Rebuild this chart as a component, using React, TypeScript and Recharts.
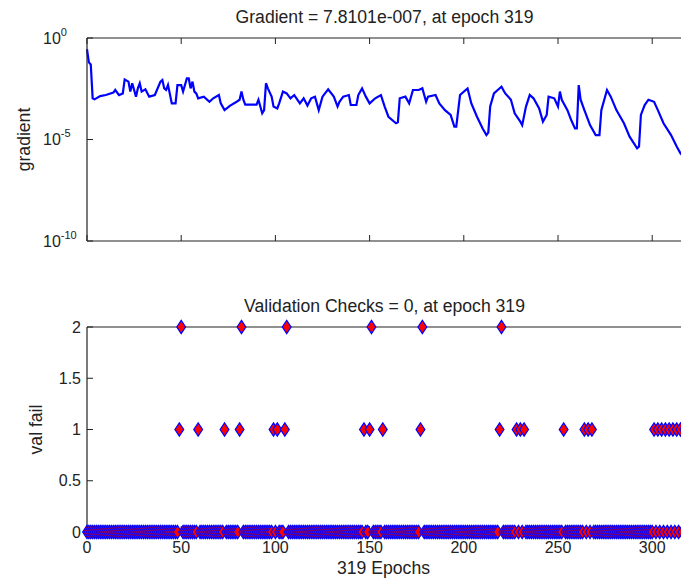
import React from 'react';
import { LineChart, Line, ScatterChart, Scatter, XAxis, YAxis, Label } from 'recharts';

// gradient curve
const gradEpochs = [
  0, 1, 2, 3, 4, 7, 10, 14, 15, 17, 19, 20, 22, 23, 24, 26, 27, 28, 29, 31, 33, 36, 39, 40, 41, 42, 43, 45,
  47, 48, 50, 51, 53, 54, 55, 56, 57, 58, 59, 62, 65, 67, 70, 71, 73, 76, 79, 81, 82, 83, 84, 90, 91, 93,
  94, 95, 96, 98, 99, 101, 102, 104, 106, 108, 110, 113, 115, 117, 119, 121, 123, 125, 128, 131, 133, 134,
  136, 139, 140, 143, 144, 146, 148, 150, 153, 156, 158, 160, 164, 165, 166, 169, 171, 173, 176, 178, 180,
  181, 185, 187, 190, 193, 195, 196, 198, 201, 202, 204, 207, 210, 212, 213, 214, 216, 218, 220, 222, 225,
  227, 230, 231, 233, 235, 237, 240, 242, 244, 245, 248, 250, 251, 252, 255, 257, 259, 260, 261, 262, 264,
  267, 270, 272, 273, 276, 278, 281, 285, 288, 292, 293, 294, 296, 298, 301, 303, 306, 310, 313, 315, 319,
];
const gradValues = [
  2.8e-1, 6.3e-2, 5.0e-2, 1.07e-3, 9.5e-4, 1.38e-3, 1.55e-3, 2.04e-3, 2.75e-3, 1.55e-3, 1.86e-3, 9.1e-3,
  7.1e-3, 2.29e-3, 5.9e-3, 1.29e-3, 3.3e-3, 5.9e-3, 2.29e-3, 2.95e-3, 1.29e-3, 1.55e-3, 7.1e-3, 8.5e-3,
  3.3e-3, 2.75e-3, 4.9e-3, 6.0e-4, 6.0e-4, 4.8e-3, 4.8e-3, 2.29e-3, 1.02e-2, 1.02e-2, 3.3e-3, 7.1e-3,
  2.29e-3, 1.86e-3, 1.07e-3, 1.29e-3, 7.2e-4, 1.07e-3, 1.55e-3, 6.0e-4, 2.8e-4, 4.7e-4, 6.8e-4, 9.1e-4,
  2.29e-3, 9.1e-4, 5.2e-4, 5.2e-4, 9.1e-4, 1.95e-4, 2.8e-4, 5.9e-3, 3.3e-3, 1.29e-3, 4.2e-4, 3.4e-4,
  6.0e-4, 2.29e-3, 1.86e-3, 1.07e-3, 1.55e-3, 6.0e-4, 1.07e-3, 4.7e-4, 1.07e-3, 1.29e-3, 2.8e-4, 1.29e-3,
  2.95e-3, 1.29e-3, 4.2e-4, 7.2e-4, 1.29e-3, 1.55e-3, 5.0e-4, 5.0e-4, 1.55e-3, 3.3e-3, 1.29e-3, 6.0e-4,
  1.07e-3, 1.55e-3, 4.2e-4, 1.32e-4, 6.3e-5, 7.1e-5, 1.07e-3, 1.29e-3, 6.0e-4, 2.75e-3, 2.75e-3, 3.3e-3,
  7.2e-4, 1.29e-3, 1.55e-3, 6.0e-4, 2.8e-4, 1.62e-4, 4.3e-5, 4.3e-5, 1.55e-3, 2.75e-3, 3.3e-3, 6.0e-4,
  1.32e-4, 3.5e-5, 1.66e-5, 2.2e-5, 4.2e-4, 1.86e-3, 2.75e-3, 4.0e-3, 1.86e-3, 9.1e-4, 1.95e-4, 7.6e-5,
  5.1e-5, 4.2e-4, 1.55e-3, 1.07e-3, 3.4e-4, 7.6e-5, 1.62e-4, 1.29e-3, 1.07e-3, 4.2e-4, 2.29e-3, 9.1e-4,
  2.8e-4, 9.1e-5, 3.5e-5, 3.5e-5, 4.8e-3, 9.1e-4, 2.8e-4, 5.1e-5, 1.66e-5, 1.66e-5, 2.8e-4, 2.75e-3,
  1.29e-3, 2.8e-4, 6.3e-5, 1.38e-5, 3.7e-6, 4.5e-6, 1.62e-4, 5.0e-4, 9.1e-4, 7.2e-4, 2.8e-4, 6.3e-5,
  1.66e-5, 4.5e-6, 2.1e-6, 7.81e-7,
];

// validation failure counts: epochs at 1 and at 2, every other epoch is 0
const valFailOneEpochs = [
  49, 59, 73, 81, 99, 101, 105, 147, 150, 157, 177, 219, 228, 230, 232, 253, 264, 266, 268,
  301, 303, 305, 307, 309, 311, 313, 315, 317,
];
const valFailTwoEpochs = [50, 82, 106, 151, 178, 220];
const lastEpoch = 319;

const epochTicks = [0, 50, 100, 150, 200, 250, 300];
const gradTicks = [1e-10, 1e-5, 1];
const gradTickExponents = ['-10', '-5', '0'];
const valFailTicks = [0, 0.5, 1, 1.5, 2];

const gradTitle = 'Gradient = 7.8101e-007, at epoch 319';
const valTitle = 'Validation Checks = 0, at epoch 319';
const gradLabel = 'gradient';
const valLabel = 'val fail';
const xLabel = '319 Epochs';

const gradData = gradEpochs.map((epoch, i) => ({ epoch, gradient: gradValues[i] }));
const valData = Array.from({ length: lastEpoch + 1 }, (_, epoch) => ({
  epoch,
  valFail: valFailTwoEpochs.includes(epoch) ? 2 : valFailOneEpochs.includes(epoch) ? 1 : 0,
}));

const FONT = '"Liberation Sans", Arial, sans-serif';
const INK = '#222';
const TEXT = '#222';

const tickStyle = { fontSize: 16, fill: TEXT, fontFamily: FONT };
const noLabel = () => <g />;

function LogTick(props: any) {
  const { y, payload } = props;
  const idx = gradTicks.indexOf(payload.value);
  return (
    <text x={43} y={y} dy={5.5} fill={TEXT} fontFamily={FONT} fontSize={16}>
      <tspan>10</tspan>
      <tspan dy={-8} fontSize={11}>{gradTickExponents[idx]}</tspan>
    </text>
  );
}

const titleContent = (text: string) => (props: any) => {
  const vb = props.viewBox;
  return (
    <text x={vb.x + vb.width / 2 - 3} y={vb.y - 14} textAnchor="middle" fill={TEXT} fontFamily={FONT} fontSize={17.6}>
      {text}
    </text>
  );
};

const yLabelContent = (text: string, baselineX: number) => (props: any) => {
  const vb = props.viewBox;
  const cy = vb.y + vb.height / 2;
  const x = vb.x + baselineX;
  return (
    <text x={x} y={cy} transform={`rotate(-90, ${x}, ${cy})`} textAnchor="middle" fill={TEXT} fontFamily={FONT} fontSize={17.6}>
      {text}
    </text>
  );
};

const xLabelContent = (props: any) => {
  const vb = props.viewBox;
  return (
    <text x={vb.x + vb.width / 2 - 4} y={vb.y + 42} textAnchor="middle" fill={TEXT} fontFamily={FONT} fontSize={17.6}>
      {xLabel}
    </text>
  );
};

function Diamond(props: any) {
  const { cx, cy } = props;
  if (cx == null || cy == null) return null;
  const w = 4.4;
  const h = 6.6;
  return (
    <path
      d={`M${cx},${cy - h}L${cx + w},${cy}L${cx},${cy + h}L${cx - w},${cy}Z`}
      fill="#ff0000"
      stroke="#0000ff"
      strokeWidth={1.2}
    />
  );
}

const boxAxis = {
  type: 'number' as const,
  interval: 0,
  tickSize: -6,
  axisLine: { stroke: INK, strokeWidth: 1.2 },
  tickLine: { stroke: INK },
};

export default function App() {
  return (
    <div style={{ position: 'absolute', left: 0, top: 0, width: 681, height: 584, overflow: 'hidden', background: '#fff' }}>
      <div style={{ position: 'absolute', left: 0, top: 0 }}>
        <LineChart width={700} height={290} data={gradData} margin={{ top: 37, right: 11, bottom: 48, left: 0 }}>
          <XAxis {...boxAxis} dataKey="epoch" domain={[0, lastEpoch]} ticks={epochTicks} height={1} tick={noLabel} />
          <XAxis
            {...boxAxis}
            xAxisId="top"
            orientation="top"
            dataKey="epoch"
            domain={[0, lastEpoch]}
            ticks={epochTicks}
            height={1}
            tick={noLabel}
          >
            <Label content={titleContent(gradTitle)} />
          </XAxis>
          <YAxis
            {...boxAxis}
            scale="log"
            domain={[1e-10, 1]}
            allowDataOverflow
            ticks={gradTicks}
            width={87}
            tick={<LogTick />}
          >
            <Label content={yLabelContent(gradLabel, 29.5)} />
          </YAxis>
          <YAxis
            {...boxAxis}
            yAxisId="right"
            orientation="right"
            scale="log"
            domain={[1e-10, 1]}
            allowDataOverflow
            ticks={gradTicks}
            width={1}
            tick={noLabel}
          />
          <Line
            dataKey="gradient"
            type="linear"
            stroke="#0000ff"
            strokeWidth={2.2}
            dot={false}
            isAnimationActive={false}
          />
        </LineChart>
      </div>
      <div style={{ position: 'absolute', left: 0, top: 290 }}>
        <ScatterChart width={700} height={294} margin={{ top: 36, right: 11, bottom: 0, left: 0 }}>
          <XAxis
            {...boxAxis}
            dataKey="epoch"
            domain={[0, lastEpoch]}
            ticks={epochTicks}
            height={52}
            tickMargin={16}
            tick={tickStyle}
          >
            <Label content={xLabelContent} />
          </XAxis>
          <XAxis
            {...boxAxis}
            xAxisId="top"
            orientation="top"
            dataKey="epoch"
            domain={[0, lastEpoch]}
            ticks={epochTicks}
            height={1}
            tick={noLabel}
          >
            <Label content={titleContent(valTitle)} />
          </XAxis>
          <YAxis
            {...boxAxis}
            dataKey="valFail"
            domain={[0, 2]}
            ticks={valFailTicks}
            width={87}
            tickMargin={12}
            tick={tickStyle}
          >
            <Label content={yLabelContent(valLabel, 42)} />
          </YAxis>
          <YAxis
            {...boxAxis}
            yAxisId="right"
            orientation="right"
            dataKey="valFail"
            domain={[0, 2]}
            ticks={valFailTicks}
            width={1}
            tick={noLabel}
          />
          <Scatter data={valData} dataKey="valFail" shape={<Diamond />} isAnimationActive={false} />
        </ScatterChart>
      </div>
    </div>
  );
}
